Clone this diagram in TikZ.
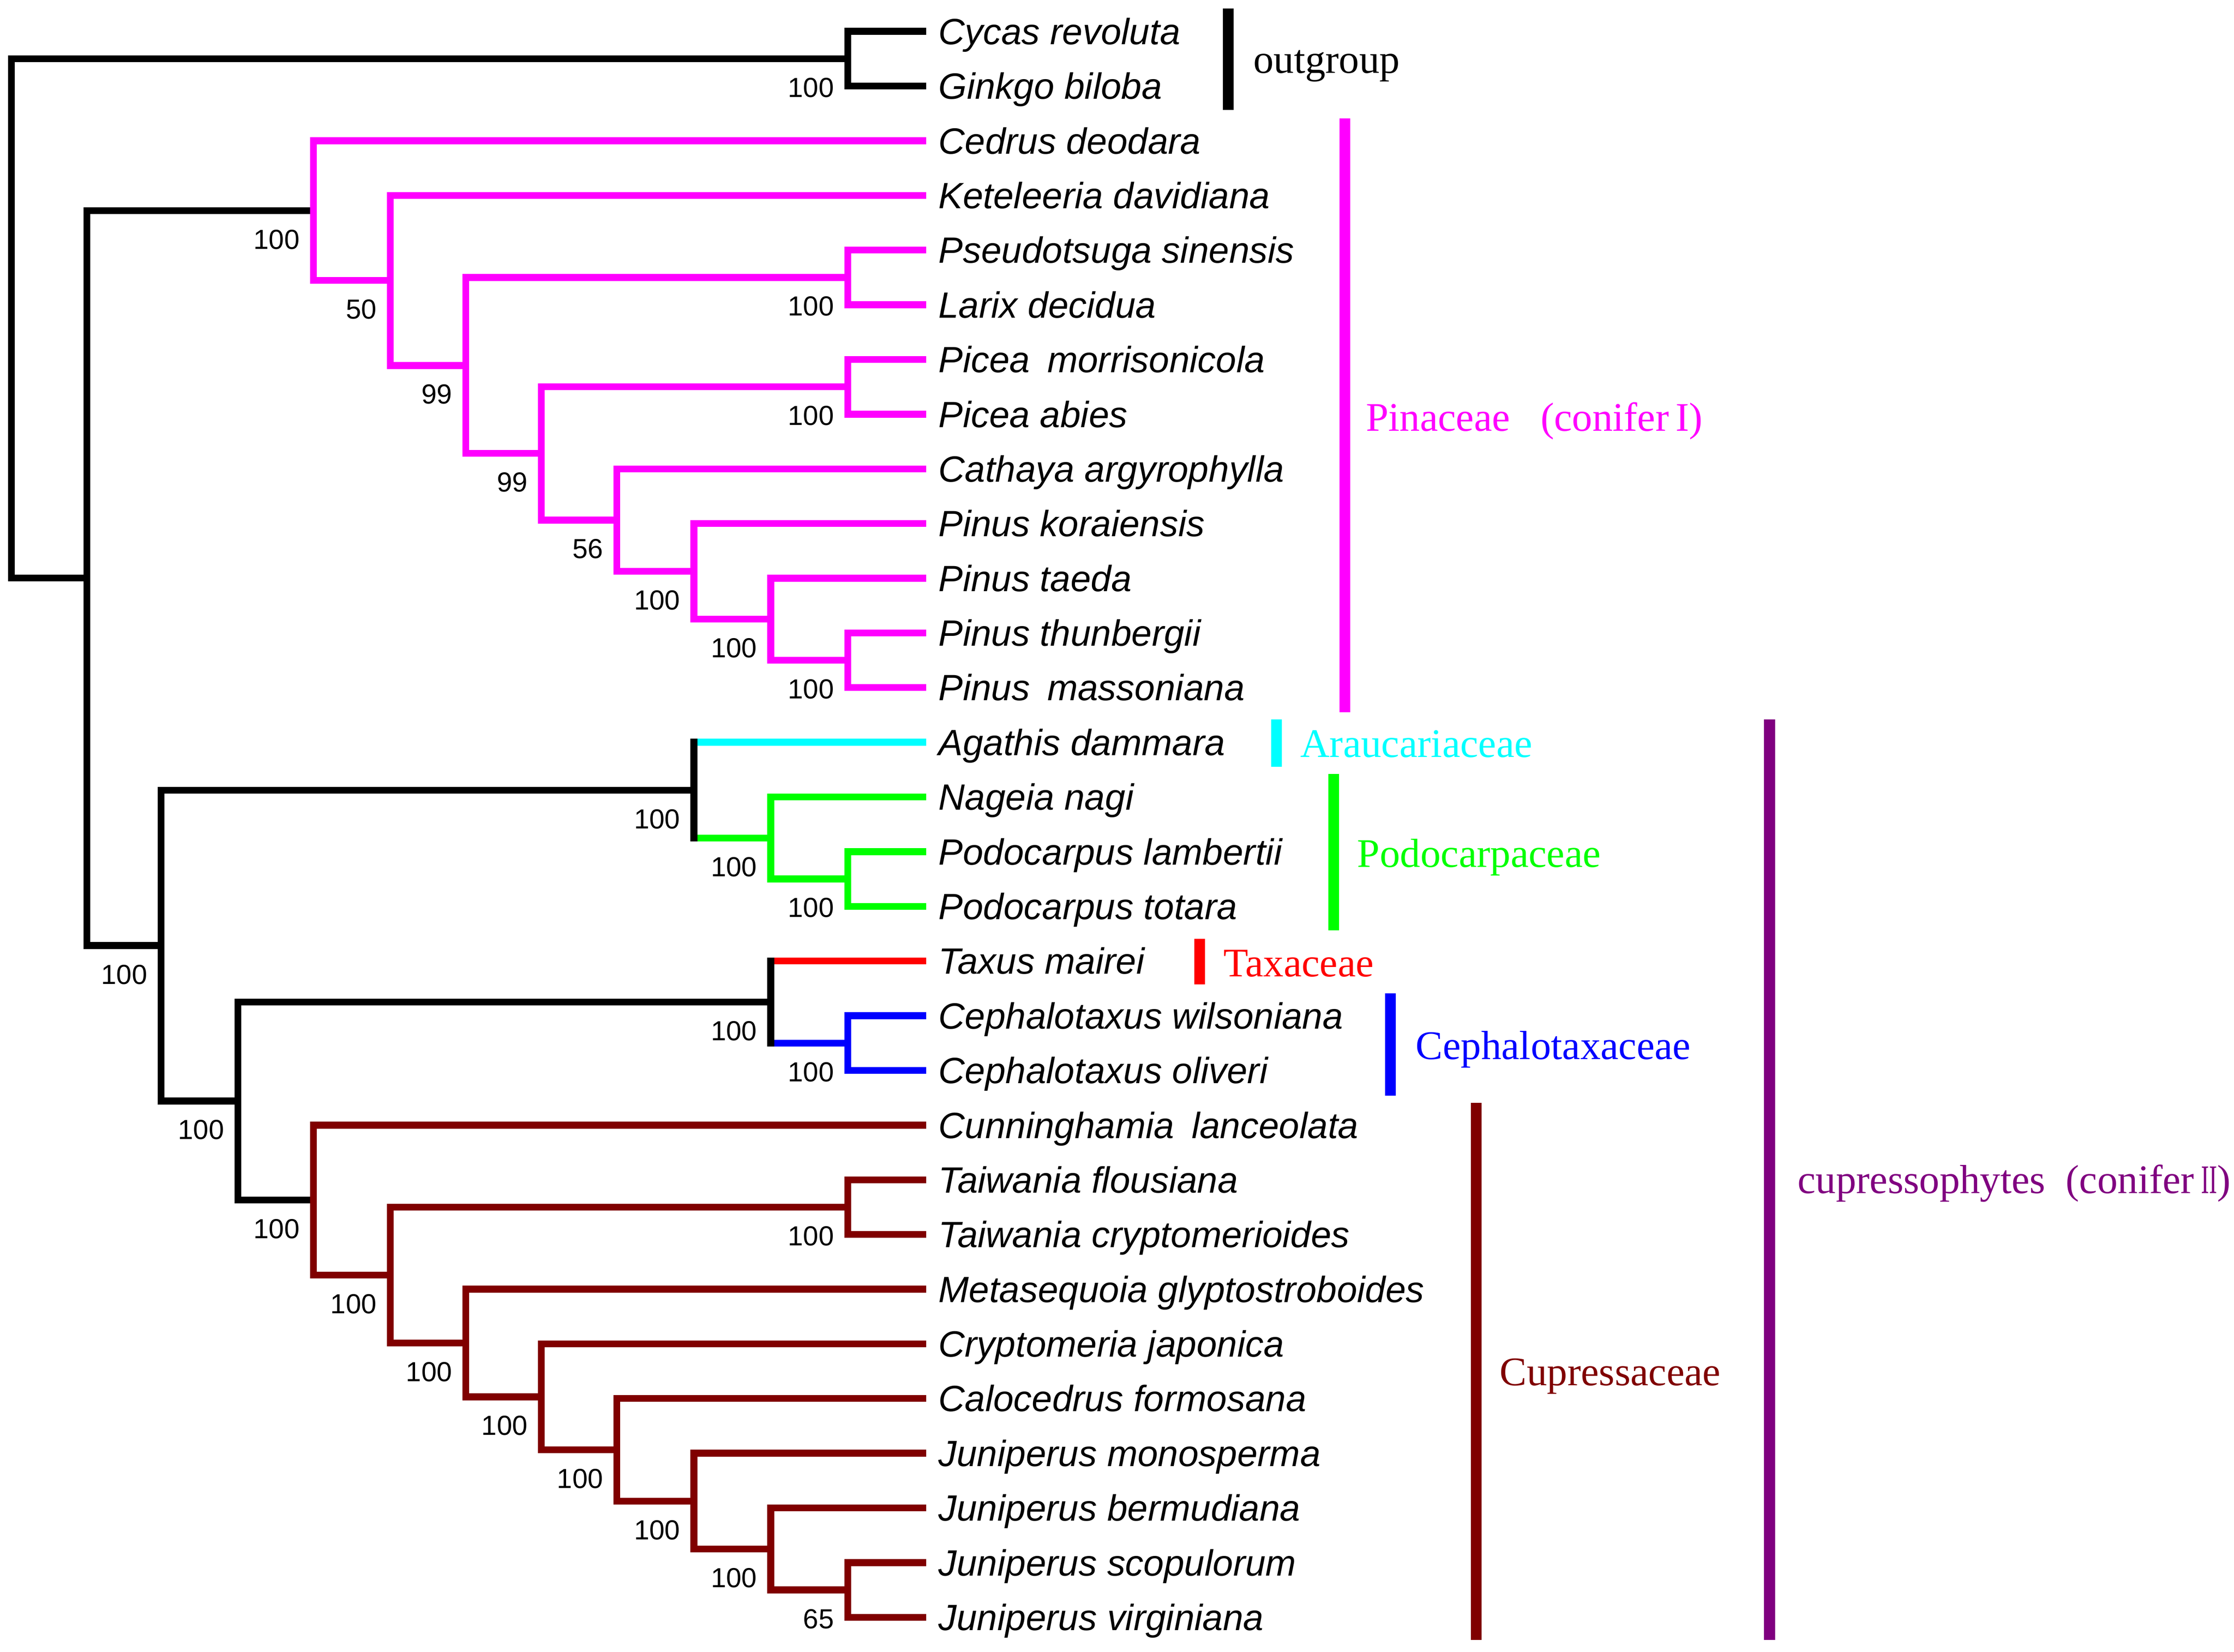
\documentclass[tikz,border=0pt]{standalone}
\usepackage{graphicx}
\usepackage{fontspec}
\setmainfont{Liberation Serif}
\newfontfamily\taxfont{Liberation Sans}
\usetikzlibrary{calc}

\definecolor{cPin}{RGB}{255,0,255}
\definecolor{cAra}{RGB}{0,255,255}
\definecolor{cPod}{RGB}{0,255,0}
\definecolor{cTax}{RGB}{255,0,0}
\definecolor{cCep}{RGB}{0,0,255}
\definecolor{cCup}{RGB}{128,0,0}
\definecolor{cCpy}{RGB}{128,0,128}

% clade: name, x level, child a, child b, support
\newcommand\clade[5]{%
  \coordinate (#1m) at ($(#3)!.5!(#4)$);
  \coordinate (#1) at (#1m -| #2);
  \node[boot] (#1b) at ([shift={(-9,20)}]#1) {#5};
}

\begin{document}
\begin{tikzpicture}[x=0.01cm, y=-0.01cm,
    branch/.style={line width=1.37pt},
    bar/.style={line width=2.15pt},
    taxon/.style={anchor=west, inner xsep=0.08cm, inner ysep=0pt,
        font=\taxfont\itshape\fontsize{7.3}{8}\selectfont,
        text height=5.2pt, text depth=0pt},
    boot/.style={anchor=east, inner sep=0pt,
        font=\taxfont\fontsize{5.5}{6}\selectfont,
        text height=3.94pt, text depth=0pt},
    grp/.style={anchor=west, inner sep=0pt,
        font=\fontsize{8.1}{9}\selectfont,
        text height=5.35pt, text depth=0pt}]

    \useasboundingbox (0,0) rectangle (1568,1159.3);

    % depth levels
    \foreach \k/\xx in {1/595,2/541,3/487,4/433,5/380,6/327,
                        7/274,8/220,9/167,10/113,11/61,12/8}
        \coordinate (L\k) at (\xx,0);

    % taxa
    \foreach \sp [count=\i] in {Cycas revoluta, Ginkgo biloba,
        Cedrus deodara, Keteleeria davidiana, Pseudotsuga sinensis,
        Larix decidua, Picea\hspace{.2em} morrisonicola, Picea abies,
        Cathaya argyrophylla, Pinus koraiensis, Pinus taeda,
        Pinus thunbergii, Pinus\hspace{.2em} massoniana,
        Agathis dammara, Nageia nagi, Podocarpus lambertii,
        Podocarpus totara, Taxus mairei, Cephalotaxus wilsoniana,
        Cephalotaxus oliveri, Cunninghamia\hspace{.2em} lanceolata,
        Taiwania flousiana, Taiwania cryptomerioides,
        Metasequoia glyptostroboides, Cryptomeria japonica,
        Calocedrus formosana, Juniperus monosperma,
        Juniperus bermudiana, Juniperus scopulorum,
        Juniperus virginiana}
        \node[taxon] (t\i) at (650,{22+(\i-1)*38.38}) {\sp};

    % internal nodes
    \clade{og}{L1}{t1}{t2}{100}
    \clade{pin1}{L1}{t12}{t13}{100}
    \clade{pin2}{L2}{t11}{pin1}{100}
    \clade{pin3}{L3}{t10}{pin2}{100}
    \clade{pin4}{L4}{t9}{pin3}{56}
    \clade{pic}{L1}{t7}{t8}{100}
    \clade{pin5}{L5}{pic}{pin4}{99}
    \clade{psl}{L1}{t5}{t6}{100}
    \clade{pin6}{L6}{psl}{pin5}{99}
    \clade{pin7}{L7}{t4}{pin6}{50}
    \clade{pina}{L8}{t3}{pin7}{100}
    \clade{pod1}{L1}{t16}{t17}{100}
    \clade{pod2}{L2}{t15}{pod1}{100}
    \clade{arpo}{L3}{t14}{pod2}{100}
    \clade{ceph}{L1}{t19}{t20}{100}
    \clade{taxc}{L2}{t18}{ceph}{100}
    \clade{jun1}{L1}{t29}{t30}{65}
    \clade{jun2}{L2}{t28}{jun1}{100}
    \clade{jun3}{L3}{t27}{jun2}{100}
    \clade{cup1}{L4}{t26}{jun3}{100}
    \clade{cup2}{L5}{t25}{cup1}{100}
    \clade{cup3}{L6}{t24}{cup2}{100}
    \clade{tai}{L1}{t22}{t23}{100}
    \clade{cup4}{L7}{tai}{cup3}{100}
    \clade{cupr}{L8}{t21}{cup4}{100}
    \clade{tcc}{L9}{taxc}{cupr}{100}
    \clade{cpy}{L10}{arpo}{tcc}{100}
    \coordinate (ingm) at ($(pina)!.5!(cpy)$);
    \coordinate (ing) at (ingm -| L11);
    \coordinate (rootm) at ($(og)!.5!(ing)$);
    \coordinate (root) at (rootm -| L12);

    % backbone
    \draw[branch] (t1.west) -| (og) |- (t2.west);
    \draw[branch] (og) -| (root) |- (ing);
    \draw[branch] (pina) -| (ing) |- (cpy);
    \draw[branch] (arpo) -| (cpy) |- (tcc);
    \draw[branch] (taxc) -| (tcc) |- (cupr);

    % Pinaceae
    \begin{scope}[cPin]
    \draw[branch] (t3.west) -| (pina) |- (pin7);
    \draw[branch] (t4.west) -| (pin7) |- (pin6);
    \draw[branch] (psl) -| (pin6) |- (pin5);
    \draw[branch] (t5.west) -| (psl) |- (t6.west);
    \draw[branch] (pic) -| (pin5) |- (pin4);
    \draw[branch] (t7.west) -| (pic) |- (t8.west);
    \draw[branch] (t9.west) -| (pin4) |- (pin3);
    \draw[branch] (t10.west) -| (pin3) |- (pin2);
    \draw[branch] (t11.west) -| (pin2) |- (pin1);
    \draw[branch] (t12.west) -| (pin1) |- (t13.west);
    \end{scope}

    % Araucariaceae + Podocarpaceae
    \draw[branch,cAra] (arpo |- t14) -- (t14.west);
    \draw[branch,cPod] (arpo |- pod2) -- (pod2);
    \draw[branch,cPod] (t15.west) -| (pod2) |- (pod1);
    \draw[branch,cPod] (t16.west) -| (pod1) |- (t17.west);
    \draw[branch,line cap=rect] (arpo |- t14) -- (arpo |- pod2);

    % Taxaceae + Cephalotaxaceae
    \draw[branch,cTax] (taxc |- t18) -- (t18.west);
    \draw[branch,cCep] (taxc |- ceph) -- (ceph);
    \draw[branch,cCep] (t19.west) -| (ceph) |- (t20.west);
    \draw[branch,line cap=rect] (taxc |- t18) -- (taxc |- ceph);

    % Cupressaceae
    \begin{scope}[cCup]
    \draw[branch] (t21.west) -| (cupr) |- (cup4);
    \draw[branch] (tai) -| (cup4) |- (cup3);
    \draw[branch] (t22.west) -| (tai) |- (t23.west);
    \draw[branch] (t24.west) -| (cup3) |- (cup2);
    \draw[branch] (t25.west) -| (cup2) |- (cup1);
    \draw[branch] (t26.west) -| (cup1) |- (jun3);
    \draw[branch] (t27.west) -| (jun3) |- (jun2);
    \draw[branch] (t28.west) -| (jun2) |- (jun1);
    \draw[branch] (t29.west) -| (jun1) |- (t30.west);
    \end{scope}

    % group bars
    \draw[bar] (862,6) -- (862,77);
    \node[grp] (gout) at (879,42) {outgroup};
    \draw[bar,cPin] (944,83) -- (944,500);
    \node[grp,cPin] (gpin) at (958,293) {Pinaceae\hspace{.5em} (conifer\,I)};
    \draw[bar,cAra] (896,505) -- (896,538);
    \node[grp,cAra] (gara) at (912,522) {Araucariaceae};
    \draw[bar,cPod] (936,543) -- (936,653);
    \node[grp,cPod] (gpod) at (952,599) {Podocarpaceae};
    \draw[bar,cTax] (842,659) -- (842,691);
    \node[grp,cTax] (gtax) at (858,676) {Taxaceae};
    \draw[bar,cCep] (976,697) -- (976,769);
    \node[grp,cCep] (gcep) at (993,734) {Cephalotaxaceae};
    \draw[bar,cCup] (1036,774) -- (1036,1151);
    \node[grp,cCup] (gcup) at (1052,963) {Cupressaceae};
    \draw[bar,cCpy] (1242,505) -- (1242,1151);
    \node[grp,cCpy] (gcpy) at (1261,828)
        {cupressophytes\hspace{.25em} (conifer\,\scalebox{.6}[1]{II})};

\end{tikzpicture}
\end{document}
